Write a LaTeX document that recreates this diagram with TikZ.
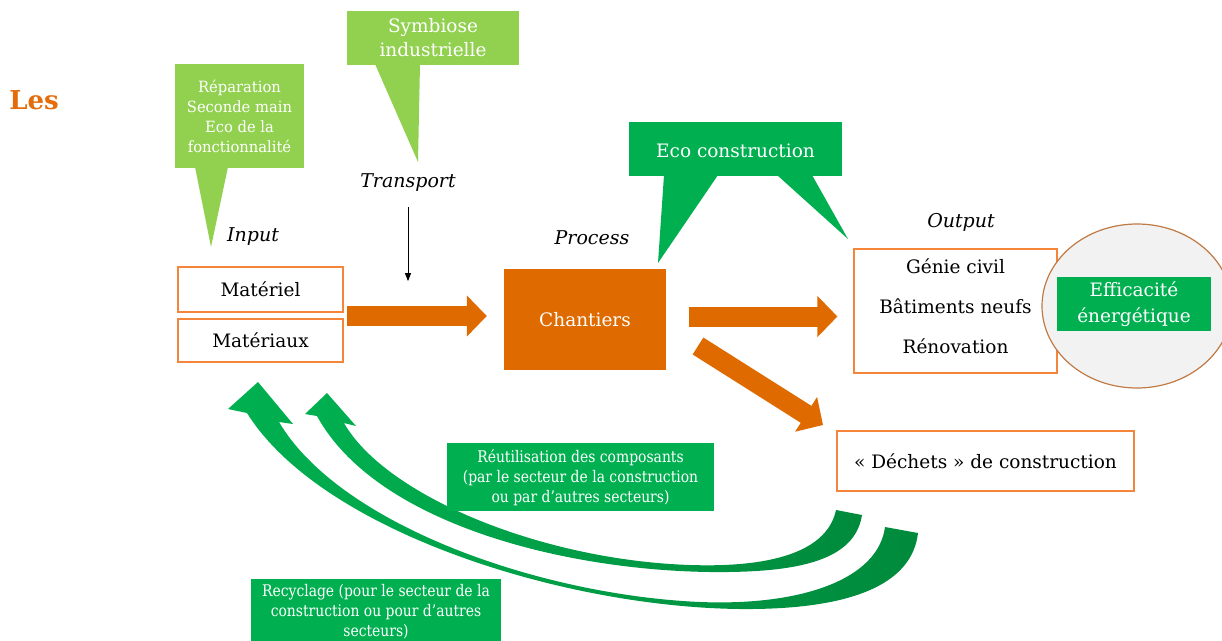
\documentclass[tikz,border=0pt]{standalone}
\usepackage{fontspec}
\setmainfont{DejaVu Serif}
\newfontfamily\calloutfont{DejaVu Serif}[FakeStretch=0.95]
\newfontfamily\slimfont{DejaVu Serif}[FakeStretch=0.87]
\usetikzlibrary{arrows.meta,shapes.geometric}

\definecolor{orng}{HTML}{DE6A00}
\definecolor{oline}{HTML}{F5853A}
\definecolor{titleor}{HTML}{E46C0A}
\definecolor{lgreen}{HTML}{92D050}
\definecolor{mgreen}{HTML}{00B050}
\definecolor{dgreen}{HTML}{008A3C}
\definecolor{circfill}{HTML}{F2F2F2}
\definecolor{circline}{HTML}{C07A45}

\tikzset{
  obox/.style={draw=oline, line width=1.2pt, fill=white, inner sep=0pt},
  txt/.style={font=\fontsize{18.5}{22}\selectfont, text=black, inner sep=0pt},
  lbl/.style={font=\fontsize{19}{22}\selectfont\itshape, inner sep=0pt},
  wtxt/.style={font=\fontsize{18.5}{22}\selectfont, text=white, inner sep=0pt},
  lgbox/.style={fill=lgreen, draw=none, inner sep=0pt},
  mgbox/.style={fill=mgreen, draw=none, inner sep=0pt},
  oarrow/.style={draw=orng, line width=20pt, -{Triangle[length=20pt,width=40pt]}},
  tarrow/.style={draw=black, line width=0.8pt, -{Triangle[length=8pt,width=6pt]}},
  greenarrow/.style={left color=mgreen, middle color=mgreen, right color=dgreen, draw=none},
}

\begin{document}
\begin{tikzpicture}[x=1pt,y=-1pt]
\useasboundingbox (0,0) rectangle (1222,640);

% title fragment
\node[font=\fontsize{26}{30}\selectfont\bfseries, text=titleor, inner sep=0pt] (les) at (34,100) {Les};

% recirculation arrows (drawn first, boxes lie over them)
% recycling loop (outer)
\shade[greenarrow] (918,533) .. controls (912,585) and (850,610) .. (740,609)
  .. controls (560,607) and (320,530) .. (247,413)
  -- (228,409) -- (258,382) -- (293,424) -- (279,422)
  .. controls (340,525) and (540,595) .. (700,602)
  .. controls (800,606) and (878,580) .. (885,527) -- cycle;
% reuse loop (inner)
\shade[greenarrow] (862,515) .. controls (855,560) and (800,573) .. (710,572)
  .. controls (560,570) and (375,522) .. (317,416)
  -- (305,414) -- (327,393) -- (356,426) -- (344,423)
  .. controls (385,495) and (540,560) .. (690,565)
  .. controls (780,568) and (828,548) .. (836,510) -- cycle;

% input side
\node[obox, minimum width=165pt, minimum height=45pt] (mat) at (260.5,289.5) {};
\node[txt] (matl) at (mat.center) {Matériel};
\node[obox, minimum width=165pt, minimum height=43pt] (mtx) at (260.5,340.5) {};
\node[txt] (mtxl) at (mtx.center) {Matériaux};
\node[lbl] (inp) at (253,237) {Input};

% callout: reuse practices
\node[lgbox, minimum width=129pt, minimum height=104pt] (rep) at (239.5,116) {};
\fill[lgreen] (195,167) -- (211,247) -- (228,167) -- cycle;
\node[font=\calloutfont\fontsize{15.5}{20}\selectfont, text=white, align=center, inner sep=0pt] (repl) at (239.5,116.5)
  {Réparation\\Seconde main\\Eco de la\\fonctionnalité};

% callout: industrial symbiosis
\node[lgbox, minimum width=172pt, minimum height=54pt] (sym) at (433,38) {};
\fill[lgreen] (375,64) -- (418,162) -- (420,64) -- cycle;
\node[wtxt, align=center, font=\fontsize{18.5}{24}\selectfont] (syml) at (433,38) {Symbiose\\industrielle};

% transport
\node[lbl] (tr) at (408,183) {Transport};
\draw[tarrow] ([yshift=-15pt]tr.south) -- ++(0,74);

% process
\node[lbl] (proc) at (592,238) {Process};
\node[fill=orng, minimum width=162pt, minimum height=101pt, inner sep=0pt] (chan) at (585,319.5) {};
\node[wtxt] (chanl) at (chan.center) {Chantiers};

% callout: eco construction
\node[mgbox, minimum width=213pt, minimum height=54pt] (eco) at (735.5,149) {};
\fill[mgreen] (664,175) -- (658,263) -- (718,175) -- cycle;
\fill[mgreen] (777,175) -- (848,239) -- (812,175) -- cycle;
\node[wtxt] (ecol) at (735.5,151) {Eco construction};

% output side
\node[lbl] (outp) at (961,222) {Output};
\node[obox, minimum width=203pt, minimum height=124pt] (out) at (955.5,311) {};
\node[txt] (o1) at (955.5,266.7) {Génie civil};
\node[txt] (o2) at (955.5,306.7) {Bâtiments neufs};
\node[txt] (o3) at (955.5,346) {Rénovation};

% energy efficiency
\node[ellipse, draw=circline, line width=1.2pt, fill=circfill, minimum width=190pt, minimum height=164pt, inner sep=0pt] (ell) at (1137,306) {};
\node[mgbox, minimum width=154pt, minimum height=54pt] (eff) at (1134,304) {};
\node[font=\fontsize{18.5}{26}\selectfont, text=white, align=center, inner sep=0pt] (effl) at (eff.center) {Efficacité\\énergétique};

% waste
\node[obox, minimum width=297pt, minimum height=60pt] (dech) at (985.5,461) {};
\node[txt] (dechl) at (dech.center) {« Déchets » de construction};

% flows
\coordinate (inR) at (347,316);
\draw[oarrow] (inR) -- ([xshift=-17pt]chan.west |- inR);
\coordinate (chR) at (689,316.5);
\draw[oarrow] (chR) -- ([xshift=-16pt]out.west |- chR);
\coordinate (d1) at (698,346);
\coordinate (d2) at (823,425);
\draw[oarrow] (d1) -- (d2);

% loop labels
\node[mgbox, minimum width=267pt, minimum height=68pt] (reu) at (580.5,477) {};
\node[font=\slimfont\fontsize{16}{19.8}\selectfont, text=white, align=center, inner sep=0pt] (reul) at (580.5,478)
  {Réutilisation des composants\\(par le secteur de la construction\\ou par d’autres secteurs)};
\node[mgbox, minimum width=250pt, minimum height=62pt] (rec) at (376,610) {};
\node[font=\slimfont\fontsize{16}{20}\selectfont, text=white, align=center, inner sep=0pt] (recl) at (376,612)
  {Recyclage (pour le secteur de la\\construction ou pour d’autres\\secteurs)};
\end{tikzpicture}
\end{document}
